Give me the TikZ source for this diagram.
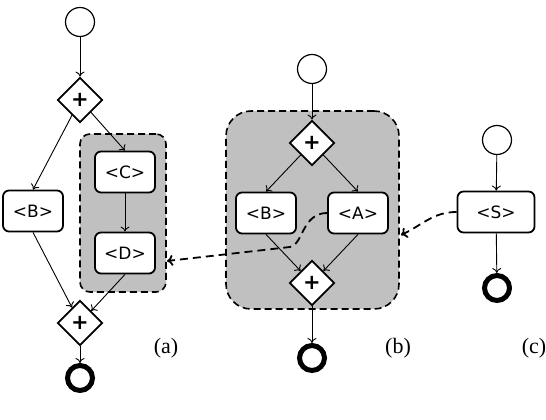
\documentclass[tikz,border=0pt]{standalone}
\usepackage{fontspec}
\setmainfont{DejaVu Sans}
\newfontfamily\capfont{Liberation Serif}
\usetikzlibrary{shapes.geometric}
\usetikzlibrary{arrows.meta}

\definecolor{grpgray}{RGB}{192,192,192}

\tikzset{
  task/.style={draw,rectangle,rounded corners=6pt,line width=1.8pt,fill=white,
    minimum width=60pt,minimum height=41pt,inner sep=0pt,font=\fontsize{17}{17}\selectfont},
  gate/.style={draw,diamond,line width=1.8pt,fill=white,minimum size=45pt,inner sep=0pt,
    font=\bfseries\fontsize{21}{21}\selectfont},
  startev/.style={draw,circle,line width=1.2pt,fill=white,minimum size=29pt,inner sep=0pt},
  endev/.style={draw,circle,line width=5pt,fill=white,minimum size=25pt,inner sep=0pt},
  grp/.style={draw,rectangle,dash pattern=on 7pt off 4pt,line width=1.6pt,fill=grpgray},
  flow/.style={line width=0.9pt,-{To[length=5pt,width=9pt]}},
  link/.style={line width=1.8pt,dash pattern=on 8pt off 5pt,-{To[length=6pt,width=11pt]}},
  caption/.style={font=\capfont\fontsize{22}{22}\selectfont}
}

\begin{document}
\begin{tikzpicture}[x=1pt,y=1pt]
  \useasboundingbox (0,0) rectangle (546,420);

  % shaded fragments, drawn first
  \node[grp,rounded corners=10pt,minimum width=86pt,minimum height=158pt] (grpa) at (123,207) {};
  \node[grp,rounded corners=25pt,minimum width=173pt,minimum height=198pt] (grpb) at (312.5,210) {};

  % (a)
  \node[startev] (sa) at (80,398) {};
  \node[gate] (ga1) at (80,320) {+};
  \node[task] (ba) at (33,209) {<B>};
  \node[task] (ca) at (125,248) {<C>};
  \node[task] (da) at (125,167) {<D>};
  \node[gate] (ga2) at (80,97) {+};
  \node[endev] (ea) at (80,42) {};
  \node[caption] (lbla) at (166,72) {(a)};

  % (b)
  \node[startev] (sb) at (312,351) {};
  \node[gate] (gb1) at (312,277) {+};
  \node[task] (bb) at (266,207) {<B>};
  \node[task] (ab) at (358,207) {<A>};
  \node[gate] (gb2) at (312,137) {+};
  \node[endev] (eb) at (312,62) {};
  \node[caption] (lblb) at (398,72) {(b)};

  % (c)
  \node[startev] (sc) at (497,280) {};
  \node[task,minimum width=77pt] (sv) at (496,208) {<S>};
  \node[endev] (ec) at (497,132) {};
  \node[caption] (lblc) at (534,72) {(c)};

  \draw[flow] (sa) -- (ga1);
  \draw[flow] (ga1) -- (ba.north);
  \draw[flow] (ga1) -- (ca.north);
  \draw[flow] (ca) -- (da);
  \draw[flow] (ba.south) -- (ga2);
  \draw[flow] (da.south) -- (ga2);
  \draw[flow] (ga2) -- (ea);

  \draw[flow] (sb) -- (gb1);
  \draw[flow] (gb1) -- (bb.north);
  \draw[flow] (gb1) -- (ab.north);
  \draw[flow] (bb.south) -- (gb2);
  \draw[flow] (ab.south) -- (gb2);
  \draw[flow] (gb2) -- (eb);

  \draw[flow] (sc) -- (sv);
  \draw[flow] (sv) -- (ec);

  % dashed references between fragments
  \coordinate (tipa) at (167,159);
  \coordinate (bend) at (290,173);
  \draw[link] (ab.west) .. controls (302,207) and (303,175) .. (bend) -- (tipa);
  \coordinate (tipb) at (401,185);
  \draw[link] (sv.west) to[out=180,in=25] (tipb);
\end{tikzpicture}
\end{document}
